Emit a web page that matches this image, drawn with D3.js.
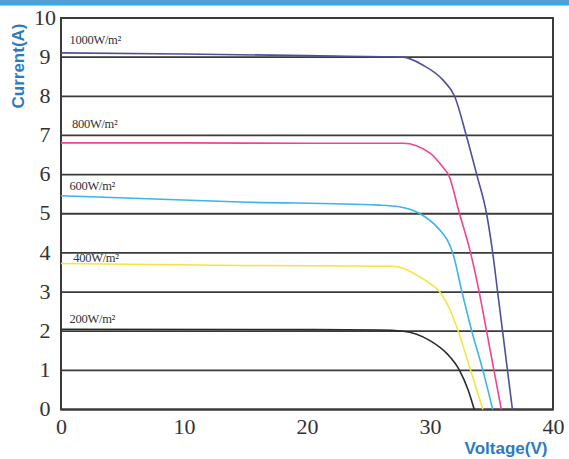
<!DOCTYPE html>
<html>
<head>
<meta charset="utf-8">
<script src="https://cdn.jsdelivr.net/npm/d3@7"></script>
<style>
  body { margin: 0; background: #fff; }
  svg { display: block; }
</style>
</head>
<body>
<svg id="iv-chart"></svg>
<script>
// irradiance series (voltage in V, current in A)
var seriesNames = ["1000W/m²", "800W/m²", "600W/m²", "400W/m²", "200W/m²"];
var seriesColors = ["#4f4f9c", "#ee4592", "#3db4ea", "#f3e43f", "#2b2b2b"];

var v1000 = [0, 10, 20, 27.8, 29.4, 31.1, 32.0, 32.95, 33.8, 34.6, 35.1, 35.5, 35.9, 36.3, 36.7];
var i1000 = [9.11, 9.08, 9.04, 9.0, 8.8, 8.4, 8.0, 7.0, 6.0, 5.0, 4.0, 3.0, 2.0, 1.0, 0];

var v800 = [0, 10, 20, 27.8, 30.0, 31.1, 31.5, 32.4, 33.3, 34.0, 34.6, 35.2, 35.8];
var i800 = [6.81, 6.81, 6.8, 6.8, 6.55, 6.17, 6.0, 5.0, 4.0, 3.0, 2.0, 1.0, 0];

var v600 = [0, 14.6, 25.9, 27.5, 29.2, 30.7, 31.4, 31.85, 32.6, 33.4, 34.3, 35.1];
var i600 = [5.46, 5.3, 5.22, 5.18, 5.0, 4.62, 4.33, 4.0, 3.0, 2.0, 1.0, 0];

var v400 = [0, 14.6, 27, 29.2, 30.0, 30.8, 31.6, 32.3, 33.3, 34.3];
var i400 = [3.73, 3.68, 3.66, 3.38, 3.22, 3.0, 2.56, 2.0, 1.0, 0];

var v200 = [0, 20, 25.9, 27.8, 30.0, 31.4, 32.4, 33.1, 33.6];
var i200 = [2.05, 2.04, 2.03, 2.0, 1.76, 1.42, 1.0, 0.5, 0];

var labelV = [0.7, 0.9, 0.7, 1.0, 0.7];
var labelI = [9.33, 7.18, 5.6, 3.78, 2.22];

var xTicks = [0, 10, 20, 30, 40];
var yTicks = [0, 1, 2, 3, 4, 5, 6, 7, 8, 9, 10];

var voltages = [v1000, v800, v600, v400, v200];
var currents = [i1000, i800, i600, i400, i200];

var W = 569, H = 459;
var margin = {top: 18, right: 16, bottom: 49.5, left: 61};
var width = W - margin.left - margin.right;
var height = H - margin.top - margin.bottom;

var svg = d3.select("#iv-chart")
    .attr("width", W)
    .attr("height", H);

// banner strip at the very top
svg.append("rect").attr("x", 0).attr("y", 0).attr("width", W).attr("height", 4).attr("fill", "#5b9bd5");
svg.append("rect").attr("x", 0).attr("y", 4).attr("width", W).attr("height", 1.5).attr("fill", "#1ab2ee");

var g = svg.append("g")
    .attr("transform", "translate(" + margin.left + "," + margin.top + ")");

var x = d3.scaleLinear().domain([0, 40]).range([0, width]);
var y = d3.scaleLinear().domain([0, 10]).range([height, 0]);

// horizontal grid lines
g.selectAll(".grid")
    .data(yTicks)
  .enter().append("line")
    .attr("class", "grid")
    .attr("x1", 0)
    .attr("x2", width)
    .attr("y1", function(d) { return y(d); })
    .attr("y2", function(d) { return y(d); })
    .attr("stroke", "#3a3a3a")
    .attr("stroke-width", 1.8);

// frame
g.append("rect")
    .attr("width", width)
    .attr("height", height)
    .attr("fill", "none")
    .attr("stroke", "#3a3a3a")
    .attr("stroke-width", 2);

// the I-V curves
var line = d3.line()
    .x(function(d) { return x(d[0]); })
    .y(function(d) { return y(d[1]); })
    .curve(d3.curveMonotoneX);

seriesNames.forEach(function(name, k) {
  var pts = d3.zip(voltages[k], currents[k]);
  g.append("path")
      .datum(pts)
      .attr("fill", "none")
      .attr("stroke", seriesColors[k])
      .attr("stroke-width", 1.6)
      .attr("d", line);

  g.append("text")
      .attr("x", x(labelV[k]))
      .attr("y", y(labelI[k]))
      .attr("font-family", "'Liberation Serif', 'DejaVu Serif', serif")
      .attr("font-size", 12.5)
      .attr("letter-spacing", -0.3)
      .attr("fill", "#333")
      .text(name);
});

// tick labels
var xAxis = d3.axisBottom(x).tickValues(xTicks).tickSize(0).tickPadding(9);
var xg = g.append("g")
    .attr("transform", "translate(0," + height + ")")
    .call(xAxis);
xg.select(".domain").remove();
xg.selectAll("text")
    .attr("font-family", "'Liberation Serif', serif")
    .attr("font-size", 22)
    .attr("fill", "#333");

var yAxis = d3.axisLeft(y).tickValues(yTicks).tickSize(0).tickPadding(10);
var yg = g.append("g").call(yAxis);
yg.select(".domain").remove();
yg.selectAll("text")
    .attr("font-family", "'Liberation Serif', serif")
    .attr("font-size", 22)
    .attr("fill", "#333")
    .attr("text-anchor", "middle")
    .attr("x", -16)
    .attr("dy", "0.28em");

// axis titles
svg.append("text")
    .attr("transform", "translate(24,66) rotate(-90)")
    .attr("text-anchor", "middle")
    .attr("font-family", "'Liberation Sans', Arial, sans-serif")
    .attr("font-weight", "bold")
    .attr("font-size", 17)
    .attr("fill", "#2b7bc4")
    .text("Current(A)");

svg.append("text")
    .attr("x", 506)
    .attr("y", 454)
    .attr("text-anchor", "middle")
    .attr("font-family", "'Liberation Sans', Arial, sans-serif")
    .attr("font-weight", "bold")
    .attr("font-size", 17)
    .attr("fill", "#2b7bc4")
    .text("Voltage(V)");
</script>
</body>
</html>
